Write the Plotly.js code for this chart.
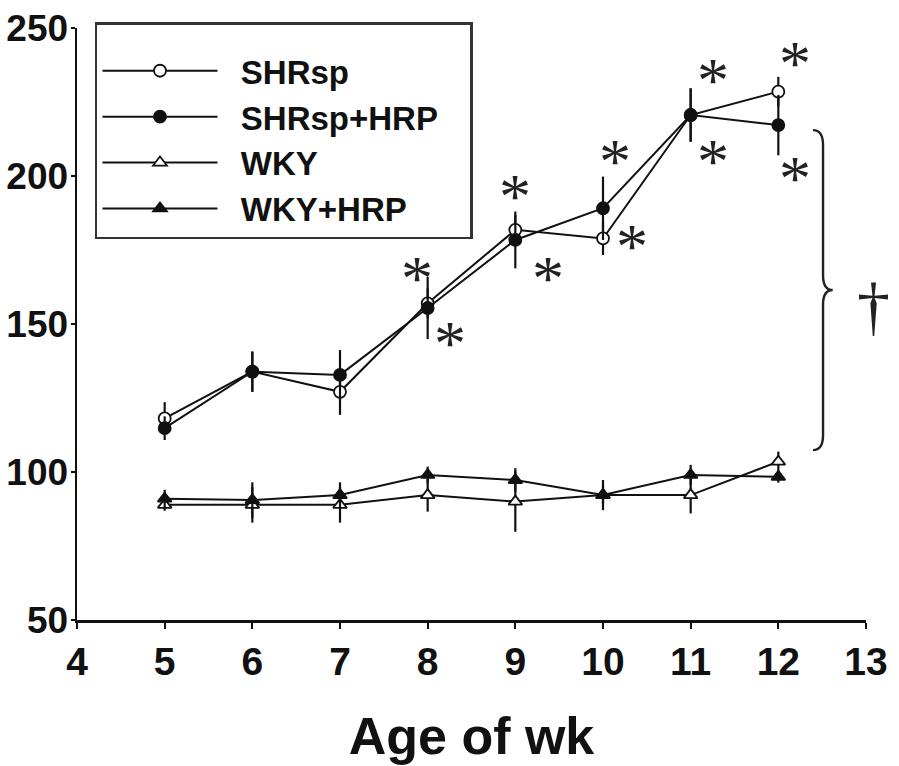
<!DOCTYPE html>
<html>
<head>
<meta charset="utf-8">
<script src="https://cdn.plot.ly/plotly-3.0.1.min.js"></script>
<style>
  html, body { margin: 0; padding: 0; background: #ffffff; }
  #chart { width: 899px; height: 766px; }
</style>
</head>
<body>
<div id="chart"></div>
<script>
// Age in weeks
const weeks = [5, 6, 7, 8, 9, 10, 11, 12];

// Group means and SEM
const shrsp        = [118.1, 133.9, 127.1, 157.0, 181.8, 178.9, 220.6, 228.5];
const shrspErr     = [5.5, 6.8, 7.8, 5.0, 5.0, 5.6, 9.0, 5.0];
const shrspHrp     = [114.8, 133.9, 132.8, 155.4, 178.4, 189.1, 220.6, 217.2];
const shrspHrpErr  = [4.0, 6.8, 8.4, 10.5, 9.6, 10.7, 9.0, 10.2];
const wky          = [88.9, 88.9, 88.9, 92.2, 90.0, 92.2, 92.2, 103.5];
const wkyErr       = [2.0, 6.0, 6.0, 5.6, 10.2, 3.0, 6.2, 3.4];
const wkyHrp       = [91.0, 90.5, 92.2, 99.0, 97.3, 92.2, 99.0, 98.4];
const wkyHrpErr    = [3.0, 6.0, 4.3, 2.8, 4.0, 5.1, 3.4, 2.0];

const seriesNames = ['SHRsp', 'SHRsp+HRP', 'WKY', 'WKY+HRP'];
const xTicks = [4, 5, 6, 7, 8, 9, 10, 11, 12, 13];
const yTicks = [50, 100, 150, 200, 250];

const INK = '#111111';
const BOLD = { family: 'Liberation Sans, Arial, sans-serif', color: INK, weight: 'bold' };
const PAD = '\u00a0\u00a0';
const TAIL = '\u00a0\u00a0\u00a0';

function series(name, y, err, symbol, hollow, rank) {
  return {
    type: 'scatter',
    mode: 'lines+markers',
    name: PAD + name + TAIL,
    legendrank: rank,
    x: weeks,
    y: y,
    line: { color: INK, width: 2 },
    marker: { symbol: symbol, size: 12, color: hollow ? '#ffffff' : INK,
              line: { color: INK, width: 1.8 } },
    error_y: { type: 'data', array: err, visible: true, color: INK, thickness: 2.2, width: 0 },
    cliponaxis: false
  };
}

// WKY drawn first so the SHRsp curves sit on top
const traces = [
  series(seriesNames[2], wky, wkyErr, 'triangle-up', true, 3),
  series(seriesNames[3], wkyHrp, wkyHrpErr, 'triangle-up', false, 4),
  series(seriesNames[0], shrsp, shrspErr, 'circle', true, 1),
  series(seriesNames[1], shrspHrp, shrspHrpErr, 'circle', false, 2)
];

// significance asterisks placed beside the SHRsp points
const starSpots = [
  [7.875, 167.7], [8.255, 145.7],
  [8.996, 195.3], [9.376, 167.7],
  [10.137, 207.1], [10.327, 178.4],
  [11.258, 234.7], [11.258, 207.1],
  [12.19, 240.3], [12.19, 201.5]
];
const SERIF = 'Liberation Serif, Times New Roman, serif';
const annotations = starSpots.map(p => ({
  x: p[0], y: p[1], xref: 'x', yref: 'y',
  text: '*', showarrow: false,
  xanchor: 'center', yanchor: 'middle', yshift: -7,
  font: { family: SERIF, size: 64, color: '#222222' }
}));
// dagger right of the brace (x in paper units, just past the axis end)
annotations.push({
  x: 1.009, y: 156.4, xref: 'paper', yref: 'y',
  text: '\u2020', showarrow: false,
  xanchor: 'center', yanchor: 'middle',
  font: { family: SERIF, size: 66, color: '#222222' }
});

// curly brace grouping the SHRsp curves against WKY
const bx0 = 12.395, bx1 = 12.51, bxTip = 12.62;
const bTop = 215.5, bBot = 107.4, bMid = 161.5, bCurve = 5;
const bracePath =
  `M${bx0},${bTop} Q${bx1},${bTop} ${bx1},${bTop - bCurve} ` +
  `L${bx1},${bMid + bCurve} Q${bx1},${bMid} ${bxTip},${bMid} ` +
  `Q${bx1},${bMid} ${bx1},${bMid - bCurve} ` +
  `L${bx1},${bBot + bCurve} Q${bx1},${bBot} ${bx0},${bBot}`;

const layout = {
  width: 899, height: 766,
  paper_bgcolor: '#ffffff', plot_bgcolor: '#ffffff',
  margin: { l: 77, r: 33, t: 28, b: 146 },
  showlegend: true,
  legend: {
    x: 0.0228, y: 1.01, xanchor: 'left', yanchor: 'top',
    bgcolor: '#ffffff', bordercolor: '#333333', borderwidth: 2.5,
    font: Object.assign({}, BOLD, { size: 33 }),
    title: { text: '\u00a0', font: { size: 14 } },
    itemwidth: 115, traceorder: 'normal',
    itemclick: false
  },
  xaxis: {
    range: [4, 13], tickmode: 'array', tickvals: xTicks,
    showgrid: false, zeroline: false,
    showline: true, linecolor: INK, linewidth: 2.5,
    ticks: 'outside', ticklen: 6, tickwidth: 2, tickcolor: INK,
    tickfont: Object.assign({}, BOLD, { size: 39 }),
    title: { text: 'Age of wk', font: Object.assign({}, BOLD, { size: 52 }), standoff: 36 }
  },
  yaxis: {
    range: [50, 250], tickmode: 'array', tickvals: yTicks,
    showgrid: false, zeroline: false,
    showline: true, linecolor: INK, linewidth: 2.5,
    ticks: 'outside', ticklen: 4, tickwidth: 2, tickcolor: INK,
    ticklabelstandoff: -5,
    tickfont: Object.assign({}, BOLD, { size: 37 })
  },
  shapes: [{
    type: 'path', xref: 'x', yref: 'y', path: bracePath,
    line: { color: '#222222', width: 2.4 }
  }],
  annotations: annotations
};

Plotly.newPlot('chart', traces, layout, { displayModeBar: false, staticPlot: true });
</script>
</body>
</html>
